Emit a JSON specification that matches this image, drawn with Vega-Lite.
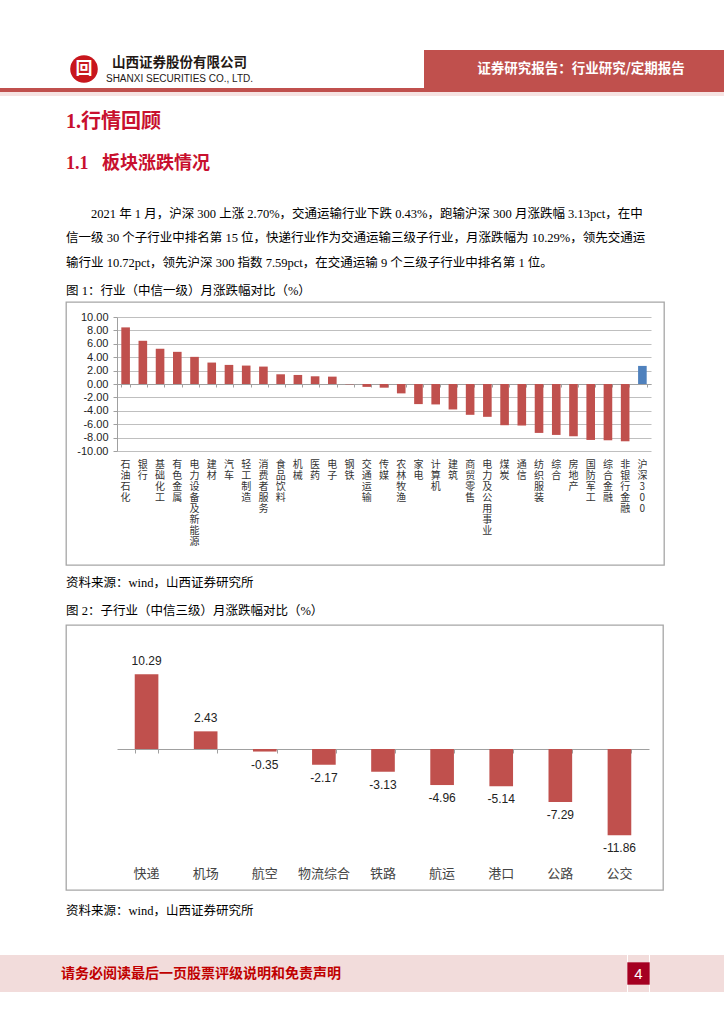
{
  "$schema": "https://vega.github.io/schema/vega-lite/v6.json",
  "background": "white",
  "padding": {"top": 50, "left": 0, "right": 0, "bottom": 0},
  "config": {
    "view": {"stroke": null},
    "title": {"anchor": "start", "frame": "group", "offset": 0, "fontWeight": "normal"},
    "locale": {"number": {"decimal": ".", "thousands": ",", "grouping": [3], "currency": ["", ""], "minus": "-"}}
  },
  "datasets": {
    "ind1": [
      {"industry": "石油石化", "chg": 8.45},
      {"industry": "银行", "chg": 6.45},
      {"industry": "基础化工", "chg": 5.25},
      {"industry": "有色金属", "chg": 4.8},
      {"industry": "电力设备及新能源", "chg": 4.05},
      {"industry": "建材", "chg": 3.2},
      {"industry": "汽车", "chg": 2.85},
      {"industry": "轻工制造", "chg": 2.75},
      {"industry": "消费者服务", "chg": 2.6},
      {"industry": "食品饮料", "chg": 1.45},
      {"industry": "机械", "chg": 1.35},
      {"industry": "医药", "chg": 1.15},
      {"industry": "电子", "chg": 1.1},
      {"industry": "钢铁", "chg": -0.05},
      {"industry": "交通运输", "chg": -0.43},
      {"industry": "传媒", "chg": -0.55},
      {"industry": "农林牧渔", "chg": -1.4},
      {"industry": "家电", "chg": -3.0},
      {"industry": "计算机", "chg": -3.05},
      {"industry": "建筑", "chg": -3.8},
      {"industry": "商贸零售", "chg": -4.6},
      {"industry": "电力及公用事业", "chg": -4.9},
      {"industry": "煤炭", "chg": -6.15},
      {"industry": "通信", "chg": -6.2},
      {"industry": "纺织服装", "chg": -7.3},
      {"industry": "综合", "chg": -7.6},
      {"industry": "房地产", "chg": -7.8},
      {"industry": "国防军工", "chg": -8.35},
      {"industry": "综合金融", "chg": -8.4},
      {"industry": "非银行金融", "chg": -8.55},
      {"industry": "沪深300", "chg": 2.7}
    ],
    "sub3": [
      {"sub": "快递", "chg": 10.29},
      {"sub": "机场", "chg": 2.43},
      {"sub": "航空", "chg": -0.35},
      {"sub": "物流综合", "chg": -2.17},
      {"sub": "铁路", "chg": -3.13},
      {"sub": "航运", "chg": -4.96},
      {"sub": "港口", "chg": -5.14},
      {"sub": "公路", "chg": -7.29},
      {"sub": "公交", "chg": -11.86}
    ]
  },
  "vconcat": [
    {
      "hconcat": [
        {"width": 66, "height": 38, "data": {"values": [{}]}, "mark": {"type": "text", "text": "", "fontSize": 0}},
        {
          "width": 36, "height": 38, "data": {"values": [{}]},
          "layer": [
            {"mark": {"type": "point", "shape": "circle", "filled": true, "size": 760, "color": "#C8161D", "opacity": 1}},
            {"mark": {"type": "text", "text": "回", "color": "white", "fontSize": 17, "fontWeight": "bold", "font": "Noto Sans CJK SC", "baseline": "middle"}}
          ]
        },
        {"width": 3, "height": 38, "data": {"values": [{}]}, "mark": {"type": "text", "text": "", "fontSize": 0}},
        {
          "width": 135, "height": 38, "data": {"values": [{}]},
          "layer": [
            {"mark": {"type": "text", "text": "山西证券股份有限公司", "color": "#231815", "fontSize": 13.5, "fontWeight": "bold", "font": "Noto Sans CJK SC", "baseline": "middle", "dy": -6}},
            {"mark": {"type": "text", "text": "SHANXI SECURITIES CO., LTD.", "color": "#231815", "fontSize": 10, "font": "Liberation Sans Narrow, Liberation Sans", "baseline": "middle", "dy": 10}}
          ]
        },
        {"width": 170, "height": 38, "data": {"values": [{}]}, "mark": {"type": "text", "text": "", "fontSize": 0}},
        {
          "width": 314, "height": 38, "data": {"values": [{}]},
          "view": {"fill": "#C0504D", "stroke": null},
          "mark": {"type": "text", "text": "证券研究报告：行业研究/定期报告", "color": "white", "fontSize": 13.5, "fontWeight": "bold", "font": "Noto Sans CJK SC", "baseline": "middle"}
        }
      ],
      "spacing": 0,
      "align": "none"
    },
    {"width": 724, "height": 4, "data": {"values": [{}]}, "view": {"fill": "#C0504D", "stroke": null}, "mark": {"type": "text", "text": "", "fontSize": 0}},
    {"width": 724, "height": 4, "data": {"values": [{}]}, "view": {"fill": "#F6E3E2", "stroke": null}, "mark": {"type": "text", "text": "", "fontSize": 0}},
    {
      "hconcat": [
        {"width": 65, "height": 10, "data": {"values": [{}]}, "mark": {"type": "text", "text": "", "fontSize": 0}},
        {
          "vconcat": [
            {"width": 598, "height": 16, "data": {"values": [{}]}, "mark": {"type": "text", "text": "", "fontSize": 0}},
            {
              "width": 598, "height": 18, "data": {"values": [{}]}, "mark": {"type": "text", "text": "", "fontSize": 0},
              "title": {"text": "1.行情回顾", "font": "'Liberation Serif', 'Noto Sans CJK SC'", "fontSize": 20, "fontWeight": "bold", "color": "#C8102E"}
            },
            {
              "width": 598, "height": 10, "data": {"values": [{}]}, "mark": {"type": "text", "text": "", "fontSize": 0},
              "title": {
                "text": "1.1\u00a0\u00a0\u00a0板块涨跌情况",
                "font": "'Liberation Serif', 'Noto Sans CJK SC'", "fontSize": 18, "fontWeight": "bold", "color": "#C8102E",
                "subtitle": [
                  "\u200b\u3000\u30002021 年 1 月，沪深 300 上涨 2.70%，交通运输行业下跌 0.43%，跑输沪深 300 月涨跌幅 3.13pct，在中",
                  "信一级 30 个子行业中排名第 15 位，快递行业作为交通运输三级子行业，月涨跌幅为 10.29%，领先交通运",
                  "输行业 10.72pct，领先沪深 300 指数 7.59pct，在交通运输 9 个三级子行业中排名第 1 位。"
                ],
                "subtitleFont": "'Liberation Serif', 'Noto Sans CJK SC'", "subtitleFontSize": 12.5, "subtitleColor": "#000000",
                "subtitleLineHeight": 24.5, "subtitlePadding": 35
              }
            },
            {
              "width": 598, "height": 263,
              "view": {"stroke": "#a6a6a6", "strokeWidth": 1.3},
              "title": {"text": "图 1：行业（中信一级）月涨跌幅对比（%）", "font": "'Liberation Serif', 'Noto Sans CJK SC'", "fontSize": 12.5, "color": "#000000", "offset": 5},
              "data": {"name": "ind1"},
              "layer": [
                {
                  "mark": {"type": "bar"},
                  "encoding": {
                    "x": {
                      "field": "industry", "type": "nominal", "sort": null,
                      "scale": {"range": [51, 585], "paddingInner": 0.5, "paddingOuter": 0.25},
                      "axis": {
                        "orient": "bottom", "offset": -111, "title": null, "domain": false, "ticks": false,
                        "labelAngle": 0, "labelBaseline": "top", "labelAlign": "center", "labelPadding": 5,
                        "labelExpr": "split(datum.label, '')", "labelFont": "Noto Sans CJK SC", "labelFontSize": 10,
                        "labelLineHeight": 11, "labelColor": "#333333", "labelOverlap": false, "labelLimit": 0
                      }
                    },
                    "y": {
                      "field": "chg", "type": "quantitative",
                      "scale": {"domain": [-10, 10], "range": [149, 15], "nice": false, "zero": false},
                      "axis": {
                        "offset": -51, "title": null, "values": [-10, -8, -6, -4, -2, 0, 2, 4, 6, 8, 10], "format": ".2f",
                        "domain": true, "domainColor": "#a0a0a0", "tickColor": "#a0a0a0", "tickSize": 4,
                        "gridColor": "#bfbfbf", "labelFont": "Liberation Sans", "labelFontSize": 11, "labelColor": "#222222", "labelPadding": 5
                      }
                    },
                    "color": {"condition": {"test": "datum.industry === '沪深300'", "value": "#4F81BD"}, "value": "#C0504D"}
                  }
                },
                {
                  "mark": {"type": "text", "text": "", "fontSize": 0},
                  "encoding": {
                    "x": {
                      "field": "industry", "type": "nominal", "sort": null,
                      "axis": {"orient": "bottom", "offset": -181, "labels": false, "title": null, "domain": true, "domainColor": "#a0a0a0", "ticks": true, "tickBand": "extent", "tickSize": 3, "tickColor": "#a0a0a0", "grid": false}
                    }
                  }
                }
              ],
              "resolve": {"axis": {"x": "independent"}}
            },
            {"width": 598, "height": 10, "data": {"values": [{}]}, "mark": {"type": "text", "text": "", "fontSize": 0}},
            {
              "width": 598, "height": 10, "data": {"values": [{}]}, "mark": {"type": "text", "text": "", "fontSize": 0},
              "title": {"text": "资料来源：wind，山西证券研究所", "font": "'Liberation Serif', 'Noto Sans CJK SC'", "fontSize": 12.5, "color": "#000000"}
            },
            {
              "width": 597, "height": 265,
              "view": {"stroke": "#a6a6a6", "strokeWidth": 1.3},
              "title": {"text": "图 2：子行业（中信三级）月涨跌幅对比（%）", "font": "'Liberation Serif', 'Noto Sans CJK SC'", "fontSize": 12.5, "color": "#000000", "offset": 8},
              "data": {"name": "sub3"},
              "layer": [
                {
                  "mark": {"type": "bar", "color": "#C0504D"},
                  "encoding": {
                    "x": {
                      "field": "sub", "type": "nominal", "sort": null,
                      "scale": {"range": [51, 583], "paddingInner": 0.6, "paddingOuter": 0.3},
                      "axis": {
                        "orient": "bottom", "offset": -32, "title": null, "domain": false, "ticks": false,
                        "labelAngle": 0, "labelBaseline": "top", "labelAlign": "center", "labelPadding": 9,
                        "labelFont": "Noto Sans CJK SC", "labelFontSize": 13, "labelColor": "#444444", "labelOverlap": false
                      }
                    },
                    "y": {
                      "field": "chg", "type": "quantitative",
                      "scale": {"domain": [-15, 15], "range": [233, 15], "nice": false, "zero": false},
                      "axis": {
                        "offset": -51, "title": null, "values": [-15, -10, -5, 0, 5, 10, 15], "format": ".2f",
                        "domain": true, "domainColor": "#a0a0a0", "tickColor": "#a0a0a0", "tickSize": 5,
                        "gridColor": "#bfbfbf", "labelFont": "Liberation Sans", "labelFontSize": 12, "labelColor": "#222222", "labelPadding": 5
                      }
                    }
                  }
                },
                {
                  "transform": [{"filter": "datum.chg >= 0"}],
                  "mark": {"type": "text", "font": "Liberation Sans", "fontSize": 12, "color": "#222222", "baseline": "middle", "dy": -13},
                  "encoding": {
                    "x": {"field": "sub", "type": "nominal", "sort": null, "axis": {"orient": "bottom", "offset": -141, "labels": false, "title": null, "domain": true, "domainColor": "#a0a0a0", "ticks": true, "tickBand": "extent", "tickSize": 4, "tickColor": "#a0a0a0", "grid": false}},
                    "y": {"field": "chg", "type": "quantitative", "axis": null},
                    "text": {"field": "chg", "type": "quantitative", "format": ".2f"}
                  }
                },
                {
                  "transform": [{"filter": "datum.chg < 0"}],
                  "mark": {"type": "text", "font": "Liberation Sans", "fontSize": 12, "color": "#222222", "baseline": "middle", "dy": 13},
                  "encoding": {
                    "x": {"field": "sub", "type": "nominal", "sort": null, "axis": null},
                    "y": {"field": "chg", "type": "quantitative", "axis": null},
                    "text": {"field": "chg", "type": "quantitative", "format": ".2f"}
                  }
                }
              ],
              "resolve": {"axis": {"x": "independent"}}
            },
            {"width": 597, "height": 13, "data": {"values": [{}]}, "mark": {"type": "text", "text": "", "fontSize": 0}},
            {
              "width": 597, "height": 34, "data": {"values": [{}]}, "mark": {"type": "text", "text": "", "fontSize": 0},
              "title": {"text": "资料来源：wind，山西证券研究所", "font": "'Liberation Serif', 'Noto Sans CJK SC'", "fontSize": 12.5, "color": "#000000"}
            }
          ],
          "spacing": 0,
          "align": "none"
        }
      ],
      "spacing": 0,
      "align": "none"
    },
    {
      "hconcat": [
        {"width": 60, "height": 37, "data": {"values": [{}]}, "view": {"fill": "#F2DCDB", "stroke": null}, "mark": {"type": "text", "text": "", "fontSize": 0}},
        {
          "width": 282, "height": 37, "data": {"values": [{}]}, "view": {"fill": "#F2DCDB", "stroke": null},
          "mark": {"type": "text", "text": "请务必阅读最后一页股票评级说明和免责声明", "color": "#C00000", "fontSize": 14, "fontWeight": "bold", "font": "Noto Sans CJK SC", "baseline": "middle"}
        },
        {"width": 285, "height": 37, "data": {"values": [{}]}, "view": {"fill": "#F2DCDB", "stroke": null}, "mark": {"type": "text", "text": "", "fontSize": 0}},
        {
          "width": 21, "height": 37, "data": {"values": [{}]}, "view": {"fill": "#F2DCDB", "stroke": null},
          "layer": [
            {"mark": {"type": "point", "shape": "square", "filled": true, "size": 500, "color": "#A50021", "opacity": 1}},
            {"mark": {"type": "text", "text": "4", "color": "white", "fontSize": 15, "font": "Liberation Sans", "baseline": "middle"}}
          ]
        },
        {"width": 76, "height": 37, "data": {"values": [{}]}, "view": {"fill": "#F2DCDB", "stroke": null}, "mark": {"type": "text", "text": "", "fontSize": 0}}
      ],
      "spacing": 0,
      "align": "none"
    }
  ],
  "spacing": 0,
  "align": "none"
}
